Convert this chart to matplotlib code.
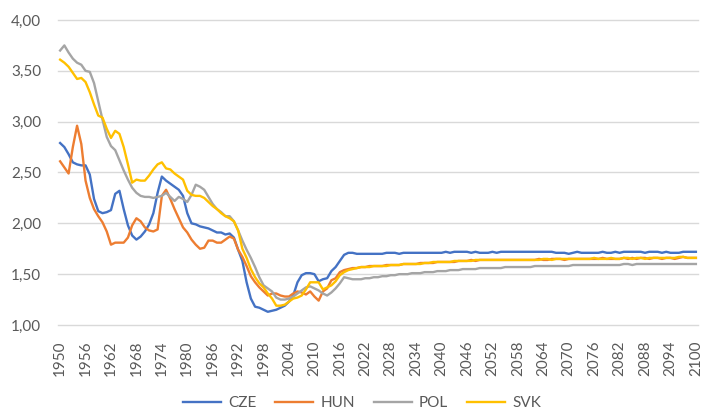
import matplotlib
matplotlib.use("Agg")
import matplotlib.pyplot as plt
import numpy as np

years = list(range(1950, 2101))

cze = [2.79, 2.75, 2.68, 2.60, 2.58, 2.57, 2.57, 2.48, 2.24, 2.12,
       2.10, 2.11, 2.13, 2.29, 2.32, 2.14, 1.98, 1.88, 1.84, 1.87,
       1.92, 1.99, 2.10, 2.30, 2.46, 2.42, 2.39, 2.36, 2.33, 2.27,
       2.10, 2.00, 1.99, 1.97, 1.96, 1.95, 1.93, 1.91, 1.91, 1.89,
       1.90, 1.86, 1.74, 1.63, 1.42, 1.26, 1.18, 1.17, 1.15, 1.13,
       1.14, 1.15, 1.17, 1.19, 1.23, 1.29, 1.42, 1.49, 1.51, 1.51,
       1.50, 1.43, 1.45, 1.46, 1.53, 1.57, 1.63, 1.69, 1.71, 1.71,
       1.70,
       1.70, 1.70, 1.70, 1.70, 1.70, 1.70, 1.71, 1.71, 1.71, 1.70,
       1.71, 1.71, 1.71, 1.71, 1.71, 1.71, 1.71, 1.71, 1.71, 1.71,
       1.72, 1.71, 1.72, 1.72, 1.72, 1.72, 1.71, 1.72, 1.71, 1.71,
       1.71, 1.72, 1.71, 1.72, 1.72, 1.72, 1.72, 1.72, 1.72, 1.72,
       1.72, 1.72, 1.72, 1.72, 1.72, 1.72, 1.71, 1.71, 1.71, 1.70,
       1.71, 1.72, 1.71, 1.71, 1.71, 1.71, 1.71, 1.72, 1.71, 1.71,
       1.72, 1.71, 1.72, 1.72, 1.72, 1.72, 1.72, 1.71, 1.72, 1.72,
       1.72, 1.71, 1.72, 1.71, 1.71, 1.71, 1.72, 1.72, 1.72, 1.72]

hun = [2.61, 2.55, 2.49, 2.75, 2.96, 2.78, 2.42, 2.25, 2.14, 2.07,
       2.01, 1.92, 1.79, 1.81, 1.81, 1.81, 1.86, 1.98, 2.05, 2.02,
       1.96, 1.93, 1.92, 1.94, 2.27, 2.33, 2.24, 2.14, 2.05, 1.96,
       1.91, 1.84, 1.79, 1.75, 1.76, 1.83, 1.83, 1.81, 1.81, 1.84,
       1.87, 1.85, 1.74, 1.67, 1.58, 1.48, 1.42, 1.37, 1.33, 1.29,
       1.31, 1.31, 1.29, 1.28, 1.28, 1.31, 1.33, 1.32, 1.30, 1.33,
       1.28, 1.24, 1.33, 1.36, 1.44, 1.46, 1.52, 1.54, 1.55, 1.56,
       1.56,
       1.57, 1.57, 1.58, 1.58, 1.58, 1.58, 1.59, 1.59, 1.59, 1.59,
       1.60, 1.60, 1.60, 1.60, 1.61, 1.61, 1.61, 1.61, 1.62, 1.62,
       1.62, 1.62, 1.62, 1.63, 1.63, 1.63, 1.64, 1.63, 1.64, 1.64,
       1.64, 1.64, 1.64, 1.64, 1.64, 1.64, 1.64, 1.64, 1.64, 1.64,
       1.64, 1.64, 1.65, 1.64, 1.64, 1.65, 1.65, 1.65, 1.64, 1.65,
       1.65, 1.65, 1.65, 1.65, 1.65, 1.65, 1.65, 1.66, 1.65, 1.65,
       1.65, 1.65, 1.66, 1.65, 1.66, 1.65, 1.66, 1.66, 1.65, 1.66,
       1.66, 1.65, 1.66, 1.66, 1.65, 1.66, 1.67, 1.66, 1.66, 1.66]

pol = [3.70, 3.75, 3.68, 3.62, 3.58, 3.56, 3.50, 3.49, 3.38, 3.20,
       3.02, 2.85, 2.76, 2.72, 2.62, 2.52, 2.43, 2.35, 2.30, 2.27,
       2.26, 2.26, 2.25, 2.26, 2.27, 2.30, 2.26, 2.22, 2.26, 2.24,
       2.21, 2.28, 2.38, 2.36, 2.33, 2.26, 2.19, 2.14, 2.11, 2.07,
       2.07, 2.02, 1.93, 1.83, 1.74, 1.66, 1.57, 1.47, 1.39, 1.36,
       1.33, 1.27, 1.25, 1.25, 1.26, 1.28, 1.31, 1.34, 1.37, 1.38,
       1.36, 1.34, 1.31, 1.29, 1.32, 1.36, 1.41, 1.47, 1.46, 1.45,
       1.45,
       1.45, 1.46, 1.46, 1.47, 1.47, 1.48, 1.48, 1.49, 1.49, 1.50,
       1.50, 1.50, 1.51, 1.51, 1.51, 1.52, 1.52, 1.52, 1.53, 1.53,
       1.53, 1.54, 1.54, 1.54, 1.55, 1.55, 1.55, 1.55, 1.56, 1.56,
       1.56, 1.56, 1.56, 1.56, 1.57, 1.57, 1.57, 1.57, 1.57, 1.57,
       1.57, 1.58, 1.58, 1.58, 1.58, 1.58, 1.58, 1.58, 1.58, 1.58,
       1.59, 1.59, 1.59, 1.59, 1.59, 1.59, 1.59, 1.59, 1.59, 1.59,
       1.59, 1.59, 1.60, 1.60, 1.59, 1.60, 1.60, 1.60, 1.60, 1.60,
       1.60, 1.60, 1.60, 1.60, 1.60, 1.60, 1.60, 1.60, 1.60, 1.60]

svk = [3.61, 3.58, 3.54, 3.48, 3.42, 3.43, 3.39, 3.29, 3.17, 3.06,
       3.04, 2.93, 2.84, 2.91, 2.88, 2.75, 2.58, 2.40, 2.43, 2.42,
       2.42, 2.47, 2.53, 2.58, 2.60, 2.54, 2.53, 2.49, 2.46, 2.43,
       2.32, 2.28, 2.27, 2.27, 2.25, 2.21, 2.17, 2.14, 2.10, 2.07,
       2.05, 2.02, 1.93, 1.75, 1.66, 1.55, 1.47, 1.41, 1.37, 1.31,
       1.26, 1.19, 1.19, 1.20, 1.23, 1.26, 1.27, 1.29, 1.35, 1.42,
       1.42, 1.42, 1.35, 1.37, 1.39, 1.43, 1.49, 1.52, 1.54, 1.55,
       1.56,
       1.57, 1.57, 1.57, 1.58, 1.58, 1.58, 1.58, 1.59, 1.59, 1.59,
       1.60, 1.60, 1.60, 1.60, 1.60, 1.61, 1.61, 1.62, 1.62, 1.62,
       1.62, 1.62, 1.63, 1.63, 1.63, 1.63, 1.63, 1.64, 1.64, 1.64,
       1.64, 1.64, 1.64, 1.64, 1.64, 1.64, 1.64, 1.64, 1.64, 1.64,
       1.64, 1.64, 1.64, 1.65, 1.65, 1.64, 1.65, 1.65, 1.65, 1.65,
       1.65, 1.65, 1.65, 1.65, 1.65, 1.66, 1.65, 1.65, 1.65, 1.66,
       1.65, 1.65, 1.66, 1.66, 1.65, 1.66, 1.66, 1.65, 1.66, 1.66,
       1.66, 1.66, 1.66, 1.66, 1.66, 1.67, 1.67, 1.66, 1.66, 1.66]

series = [("CZE", cze, "#4472C4"), ("HUN", hun, "#ED7D31"),
          ("POL", pol, "#A5A5A5"), ("SVK", svk, "#FFC000")]
for name, vals, c in series:
    assert len(vals) == len(years), (name, len(vals))

yticks = [1.0, 1.5, 2.0, 2.5, 3.0, 3.5, 4.0]
xticks = list(range(1950, 2101, 6))

plt.rcParams['font.family'] = ['Lato', 'DejaVu Sans']

fig = plt.figure(figsize=(7.05, 4.11), dpi=100)
ax = fig.add_axes([58/705, 1 - 325/411, 640/705, 305/411])

for y in yticks:
    ax.axhline(y, color="#D9D9D9", lw=1.0, zorder=0, clip_on=False)

for name, vals, c in series:
    ax.plot(years, vals, color=c, lw=1.7, label=name, solid_joinstyle="round")

ax.set_xlim(1949.5, 2100.5)
ax.set_ylim(1.0, 4.0)
ax.set_yticks(yticks)
ax.set_yticklabels([f"{v:.2f}".replace(".", ",") for v in yticks])
ax.set_xticks(xticks)
ax.set_xticklabels([str(x) for x in xticks], rotation=90)
ax.tick_params(axis="both", length=0, labelsize=11, colors="#595959")
ax.tick_params(axis="y", pad=12)
ax.tick_params(axis="x", pad=11)
for s in ax.spines.values():
    s.set_visible(False)

fig.legend(loc="center", bbox_to_anchor=(362/705, 1 - 403/411), ncol=4,
           frameon=False, fontsize=11, handlelength=2.5, handletextpad=0.45,
           columnspacing=1.25, labelcolor="#595959")

fig.savefig("out.png", dpi=100)
